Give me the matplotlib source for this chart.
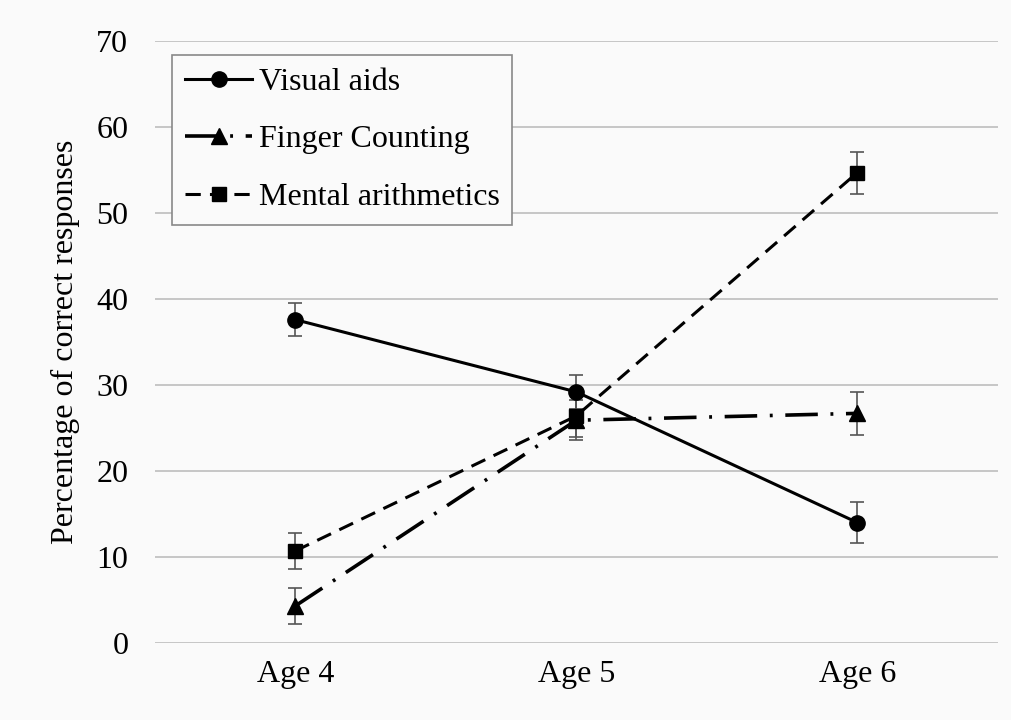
import matplotlib.pyplot as plt
import numpy as np

# Data
ages = ['Age 4', 'Age 5', 'Age 6']
visual = [37.6, 29.2, 14.0]
visual_err = [1.95, 2.0, 2.4]
finger = [4.3, 25.9, 26.7]
finger_err = [2.05, 2.3, 2.5]
mental = [10.7, 26.4, 54.7]
mental_err = [2.05, 2.4, 2.45]

plt.rcParams['font.family'] = ['Liberation Serif', 'DejaVu Serif']

fig = plt.figure(figsize=(10.11, 7.2), dpi=100)
fig.patch.set_facecolor('#fafafa')
ax = fig.add_axes([0.153, 0.107, 0.834, 0.836])
ax.set_facecolor('#fafafa')

x = np.arange(len(ages))

#Error bars first, grey, under the lines
ecol = '#555555'
for vals, errs in [(visual, visual_err), (finger, finger_err), (mental, mental_err)]:
    ax.errorbar(x, vals, yerr=errs, fmt='none', ecolor=ecol, elinewidth=1.2,
                capsize=5, capthick=1.2, zorder=2)

ax.plot(x, visual, color='black', linewidth=2.2, marker='o', markersize=11,
        label='Visual aids', zorder=3)
ax.plot(x, finger, color='black', linewidth=2.6, marker='^', markersize=11,
        dashes=(9, 3.5, 0.8, 3.5), label='Finger Counting', zorder=3)
ax.plot(x, mental, color='black', linewidth=2.2, marker='s', markersize=10.5,
        dashes=(5, 3), label='Mental arithmetics', zorder=3)

ax.set_xlim(-0.5, 2.5)
ax.set_ylim(0, 70)
ax.set_yticks(range(0, 71, 10))
ax.set_xticks(x)
ax.set_xticklabels(ages)
ax.tick_params(axis='both', length=0, labelsize=23, colors='black')
ax.tick_params(axis='y', pad=19)
ax.tick_params(axis='x', pad=12)
ax.yaxis.grid(True, color='#bdbdbd', linewidth=1.2)
ax.set_axisbelow(True)
for s in ax.spines.values():
    s.set_visible(False)

ax.set_ylabel('Percentage of correct responses', fontsize=23, labelpad=12)

leg = ax.legend(loc='upper left', bbox_to_anchor=(0.021, 0.977), fontsize=23,
                handlelength=2.1, handletextpad=0.2, labelspacing=0.88,
                borderpad=0.4, borderaxespad=0, fancybox=False, framealpha=1)
leg.get_frame().set_edgecolor('#888888')
leg.get_frame().set_facecolor('#fafafa')
leg.get_frame().set_linewidth(1.2)

fig.savefig('out.png', dpi=100, facecolor=fig.get_facecolor())
